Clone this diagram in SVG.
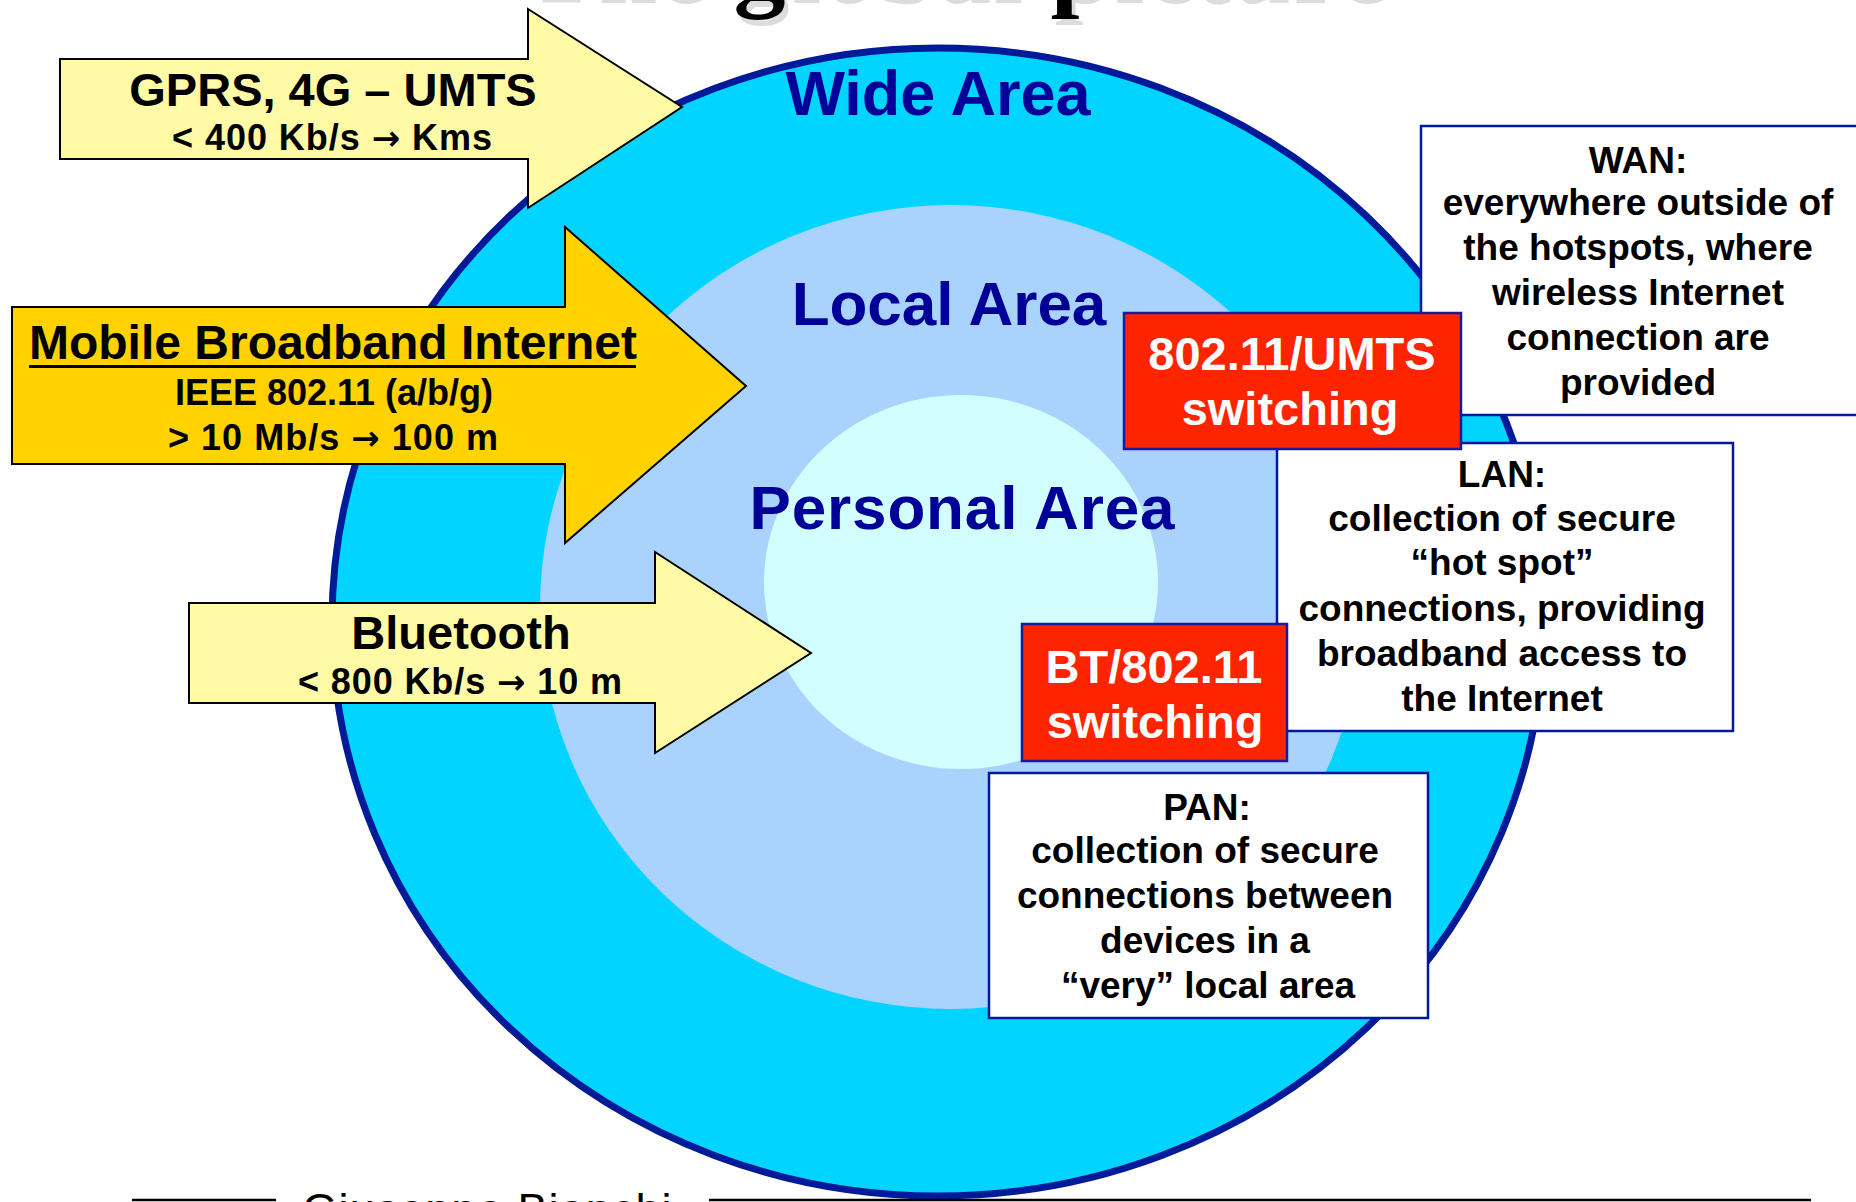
<svg xmlns="http://www.w3.org/2000/svg" width="1856" height="1202" viewBox="0 0 1856 1202">
<style>
text{font-family:"Liberation Sans",Arial,sans-serif;font-weight:bold;text-anchor:middle}
.arrowY{fill:#fffaa6;stroke:#000;stroke-width:2;stroke-linejoin:miter}
.arrowG{fill:#ffd200;stroke:#000;stroke-width:2;stroke-linejoin:miter}
.box{fill:#fff;stroke:#001a99;stroke-width:2.5}
.red{fill:#ff2400;stroke:#1a1a99;stroke-width:2.5}
.t47{font-size:47px;fill:#000}
.t36{font-size:36px;fill:#000}
.b37{font-size:37px;fill:#000}
.w47{font-size:47px;fill:#fff}
.area{fill:#000099}
.ar{font-family:"DejaVu Sans",sans-serif;font-weight:bold;font-size:34px}
</style>
<rect x="0" y="0" width="1856" height="1202" fill="#fff"/>

<g id="title">
<text x="957" y="3" style="font-family:'Liberation Serif',serif;font-size:104px;fill:#dcdcdc" textLength="860">The global picture</text>
<text x="953" y="-3" style="font-family:'Liberation Serif',serif;font-size:104px;fill:#000" textLength="860">The global picture</text>
</g>

<g id="wide-area">
<ellipse cx="938" cy="622" rx="606" ry="574" fill="#00d4ff" stroke="#001a99" stroke-width="7"/>
<text class="area" x="938" y="115" style="font-size:63px">Wide Area</text>
</g>
<g id="local-area">
<ellipse cx="951" cy="607" rx="411" ry="402" fill="#a9d3fd"/>
<text class="area" x="949" y="325" style="font-size:62px">Local Area</text>
</g>
<g id="personal-area">
<ellipse cx="961" cy="582" rx="197" ry="187" fill="#d3feff"/>
<text class="area" x="962" y="529" style="font-size:62px" textLength="425">Personal Area</text>
</g>

<g id="gprs-arrow">
<polygon class="arrowY" points="60,59 528,59 528,9 682,107 528,208 528,159 60,159"/>
<text class="t47" x="333" y="106">GPRS, 4G – UMTS</text>
<text class="t36" x="332" y="150" textLength="320">&lt; 400 Kb/s <tspan class="ar">→</tspan> Kms</text>
</g>

<g id="mobile-broadband-arrow">
<polygon class="arrowG" points="12,307 565,307 565,227 746,386 565,543 565,464 12,464"/>
<text class="t47" x="333" y="359" style="font-size:48px">Mobile Broadband Internet</text>
<rect x="29" y="365" width="607" height="3" fill="#000"/>
<text class="t36" x="334" y="405">IEEE 802.11 (a/b/g)</text>
<text class="t36" x="333" y="450" textLength="330">&gt; 10 Mb/s <tspan class="ar">→</tspan> 100 m</text>
</g>

<g id="bluetooth-arrow">
<polygon class="arrowY" points="189,603 655,603 655,552 811,653 655,753 655,703 189,703"/>
<text class="t47" x="461" y="649">Bluetooth</text>
<text class="t36" x="460" y="694" textLength="324">&lt; 800 Kb/s <tspan class="ar">→</tspan> 10 m</text>
</g>

<g id="wan-box">
<rect class="box" x="1421" y="126" width="450" height="289"/>
<text class="b37" x="1638" y="173">WAN:</text>
<text class="b37" x="1638" y="215">everywhere outside of</text>
<text class="b37" x="1638" y="260">the hotspots, where</text>
<text class="b37" x="1638" y="305">wireless Internet</text>
<text class="b37" x="1638" y="350">connection are</text>
<text class="b37" x="1638" y="395">provided</text>
</g>

<g id="lan-box">
<rect class="box" x="1277" y="443" width="456" height="288"/>
<text class="b37" x="1502" y="487">LAN:</text>
<text class="b37" x="1502" y="531">collection of secure</text>
<text class="b37" x="1502" y="575">“hot spot”</text>
<text class="b37" x="1502" y="621">connections, providing</text>
<text class="b37" x="1502" y="666">broadband access to</text>
<text class="b37" x="1502" y="711">the Internet</text>
</g>

<g id="pan-box">
<rect class="box" x="989" y="773" width="439" height="245"/>
<text class="b37" x="1207" y="820">PAN:</text>
<text class="b37" x="1205" y="863">collection of secure</text>
<text class="b37" x="1205" y="908">connections between</text>
<text class="b37" x="1205" y="953">devices in a</text>
<text class="b37" x="1208" y="998">“very” local area</text>
</g>

<g id="umts-switching">
<rect class="red" x="1124" y="313" width="337" height="136"/>
<text class="w47" x="1292" y="370">802.11/UMTS</text>
<text class="w47" x="1290" y="425">switching</text>
</g>

<g id="bt-switching">
<rect class="red" x="1022" y="624" width="265" height="137"/>
<text class="w47" x="1154" y="683">BT/802.11</text>
<text class="w47" x="1155" y="738">switching</text>
</g>

<g id="footer">
<line x1="132" y1="1200" x2="276" y2="1200" stroke="#000" stroke-width="2.5"/>
<line x1="709" y1="1200" x2="1811" y2="1200" stroke="#000" stroke-width="2.5"/>
<text x="487" y="1225" style="font-weight:normal;font-size:45px;fill:#000" textLength="369">Giuseppe Bianchi</text>
</g>
</svg>
